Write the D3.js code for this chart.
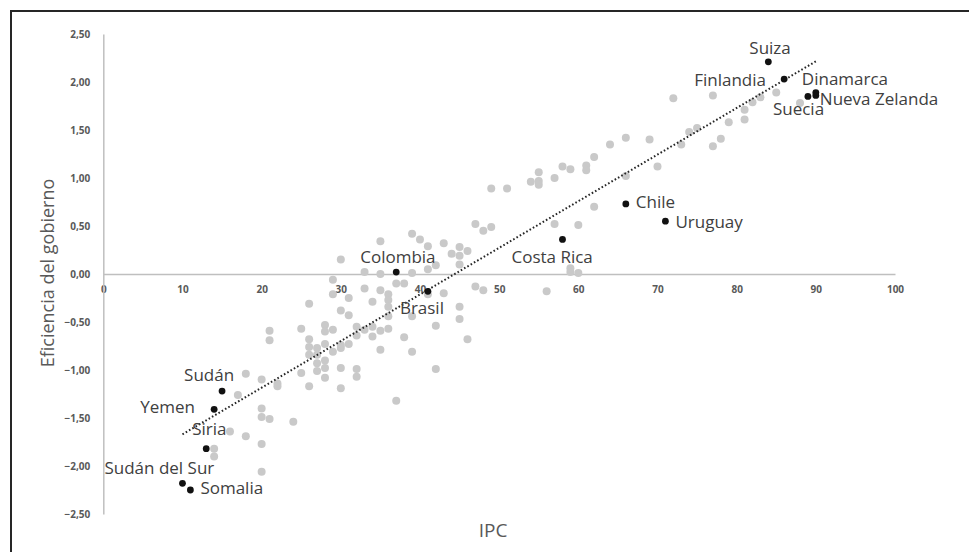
<!DOCTYPE html>
<html>
<head>
<meta charset="utf-8">
<script src="https://cdn.jsdelivr.net/npm/d3@7"></script>
<style>
  body { margin: 0; background: white; overflow: hidden; }
  svg { display: block; }
</style>
</head>
<body>
<svg id="chart" width="969" height="552"></svg>
<script>
// other countries (gray dots): IPC and government effectiveness
var otherIpc = [72, 77, 85, 83, 82, 81, 81, 79, 88, 75, 74, 73, 78, 77, 69, 66, 64, 62, 70, 66,
  58, 59, 61, 61, 55, 54, 55, 55, 57, 49, 51, 62, 57, 60, 47, 48, 49, 39, 40, 41,
  43, 45, 44, 45, 46, 45, 42, 41, 39, 35, 30, 33, 35, 59, 59, 60, 38, 41, 37, 43,
  47, 48, 56, 29, 33, 35, 29, 31, 36, 36, 36, 34, 26, 30, 31, 36, 39, 45, 45, 42,
  46, 42, 21, 21, 25, 28, 28, 29, 32, 33, 34, 32, 34, 35, 36, 38, 26, 26, 27, 28,
  29, 30, 30, 31, 26, 27, 35, 39, 27, 28, 28, 30, 32, 32, 25, 27, 28, 26, 30, 37,
  18, 20, 22, 22, 17, 20, 20, 21, 24, 16, 18, 20, 14, 14, 20];
var otherEff = [1.83, 1.86, 1.89, 1.84, 1.79, 1.71, 1.61, 1.58, 1.78, 1.52, 1.48, 1.35, 1.41, 1.33, 1.40, 1.42, 1.35, 1.22, 1.12, 1.02,
  1.12, 1.09, 1.13, 1.08, 1.06, 0.96, 0.97, 0.93, 1.00, 0.89, 0.89, 0.70, 0.52, 0.51, 0.52, 0.45, 0.49, 0.42, 0.36, 0.29,
  0.32, 0.28, 0.21, 0.19, 0.24, 0.10, 0.09, 0.05, 0.01, 0.34, 0.15, 0.02, 0.00, 0.06, 0.02, 0.01, -0.10, -0.21, -0.10, -0.20,
  -0.13, -0.17, -0.18, -0.06, -0.15, -0.17, -0.21, -0.25, -0.21, -0.27, -0.34, -0.29, -0.31, -0.38, -0.43, -0.44, -0.44, -0.34, -0.47, -0.54,
  -0.68, -0.99, -0.59, -0.69, -0.57, -0.53, -0.60, -0.58, -0.55, -0.58, -0.55, -0.64, -0.65, -0.59, -0.57, -0.66, -0.68, -0.76, -0.77, -0.73,
  -0.81, -0.74, -0.77, -0.73, -0.84, -0.84, -0.79, -0.81, -0.93, -0.90, -0.98, -0.98, -0.99, -1.07, -1.03, -1.01, -1.08, -1.17, -1.19, -1.32,
  -1.04, -1.10, -1.14, -1.17, -1.26, -1.40, -1.49, -1.51, -1.54, -1.64, -1.69, -1.77, -1.82, -1.90, -2.06];

// highlighted countries (black dots)
var countries = ['Suiza', 'Finlandia', 'Dinamarca', 'Nueva Zelanda', 'Suecia', 'Chile', 'Uruguay',
  'Costa Rica', 'Colombia', 'Brasil', 'Sudán', 'Yemen', 'Siria', 'Sudán del Sur', 'Somalia'];
var countryIpc = [84, 86, 90, 90, 89, 66, 71, 58, 37, 41, 15, 14, 13, 10, 11];
var countryEff = [2.21, 2.03, 1.89, 1.86, 1.85, 0.73, 0.55, 0.36, 0.02, -0.18, -1.22, -1.41, -1.82, -2.18, -2.25];

var xTicks = [0, 10, 20, 30, 40, 50, 60, 70, 80, 90, 100];
var yTicks = [-2.5, -2, -1.5, -1, -0.5, 0, 0.5, 1, 1.5, 2, 2.5];

// label placement (text start / baseline offset from the dot, px)
var label_offset = {
  'Suiza': [-19, -8], 'Finlandia': [-90, 7], 'Dinamarca': [-14, -8], 'Nueva Zelanda': [4, 10],
  'Suecia': [-35, 19], 'Chile': [10, 4], 'Uruguay': [10, 7], 'Costa Rica': [-51, 24],
  'Colombia': [-36, -9], 'Brasil': [-28, 23], 'Sudán': [-38, -10], 'Yemen': [-74, 4],
  'Siria': [-14, -14], 'Sudán del Sur': [-78, -9], 'Somalia': [10, 4]
};

var font = '"Open Sans", "DejaVu Sans", sans-serif';
var tick_color = '#595959';
var axis_color = '#bfbfbf';

var svg = d3.select('#chart');

// outer frame, only top and left edges are in view
svg.append('path')
  .attr('d', 'M11,552V11H969')
  .attr('fill', 'none')
  .attr('stroke', '#262626')
  .attr('stroke-width', 2);

var x = d3.scaleLinear().domain([0, 100]).range([103.3, 895]);
var y = d3.scaleLinear().domain([-2.5, 2.5]).range([514, 34]);

var comma = function(v){ return d3.format('.2f')(v).replace('.', ','); };

// x axis crosses at 0
var x_axis = svg.append('g')
  .attr('transform', 'translate(0,' + y(0) + ')')
  .call(d3.axisBottom(x).tickValues(xTicks).tickSize(0).tickPadding(12).tickFormat(d3.format('d')));

var y_axis = svg.append('g')
  .attr('transform', 'translate(' + x(0) + ',0)')
  .call(d3.axisLeft(y).tickValues(yTicks).tickSize(0).tickPadding(13).tickFormat(comma));

[x_axis, y_axis].forEach(function(a){
  a.select('.domain')
    .attr('stroke', axis_color)
    .attr('stroke-width', 1.5);
  a.selectAll('text')
    .style('font-family', font)
    .style('font-weight', 700)
    .style('font-size', '10px')
    .attr('fill', tick_color);
});

// gray dots
svg.append('g')
  .selectAll('circle')
  .data(d3.range(otherIpc.length))
  .enter()
  .append('circle')
  .attr('cx', function(i){ return x(otherIpc[i]); })
  .attr('cy', function(i){ return y(otherEff[i]); })
  .attr('r', 4)
  .attr('fill', '#c9c9c9');

// linear trend over all countries
var all_x = otherIpc.concat(countryIpc);
var all_y = otherEff.concat(countryEff);
var mx = d3.mean(all_x);
var my = d3.mean(all_y);
var sxy = d3.sum(all_x, function(v, i){ return (v - mx) * (all_y[i] - my); });
var sxx = d3.sum(all_x, function(v){ return (v - mx) * (v - mx); });
var slope = sxy / sxx;
var intercept = my - slope * mx;
var trend_x = d3.extent(all_x);

svg.append('path')
  .datum(trend_x)
  .attr('d', d3.line()
    .x(function(d){ return x(d); })
    .y(function(d){ return y(intercept + slope * d); }))
  .attr('fill', 'none')
  .attr('stroke', '#262626')
  .attr('stroke-width', 2)
  .attr('stroke-dasharray', '1.6,2.2');

// highlighted countries
var hl = svg.append('g')
  .selectAll('g')
  .data(countries)
  .enter()
  .append('g')
  .attr('transform', function(d, i){
    return 'translate(' + x(countryIpc[i]) + ',' + y(countryEff[i]) + ')';
  });

hl.append('circle')
  .attr('r', 3.4)
  .attr('fill', '#111');

hl.append('text')
  .text(function(d){ return d; })
  .attr('x', function(d){ return label_offset[d][0]; })
  .attr('y', function(d){ return label_offset[d][1]; })
  .style('font-family', font)
  .style('font-size', '17px')
  .attr('fill', '#404040');

// axis titles
svg.append('text')
  .text('IPC')
  .attr('x', 493)
  .attr('y', 537)
  .attr('text-anchor', 'middle')
  .style('font-family', font)
  .style('font-size', '19px')
  .attr('fill', tick_color);

svg.append('text')
  .text('Eficiencia del gobierno')
  .attr('transform', 'translate(54,273) rotate(-90)')
  .attr('text-anchor', 'middle')
  .style('font-family', font)
  .style('font-size', '18px')
  .attr('fill', tick_color);
</script>
</body>
</html>
